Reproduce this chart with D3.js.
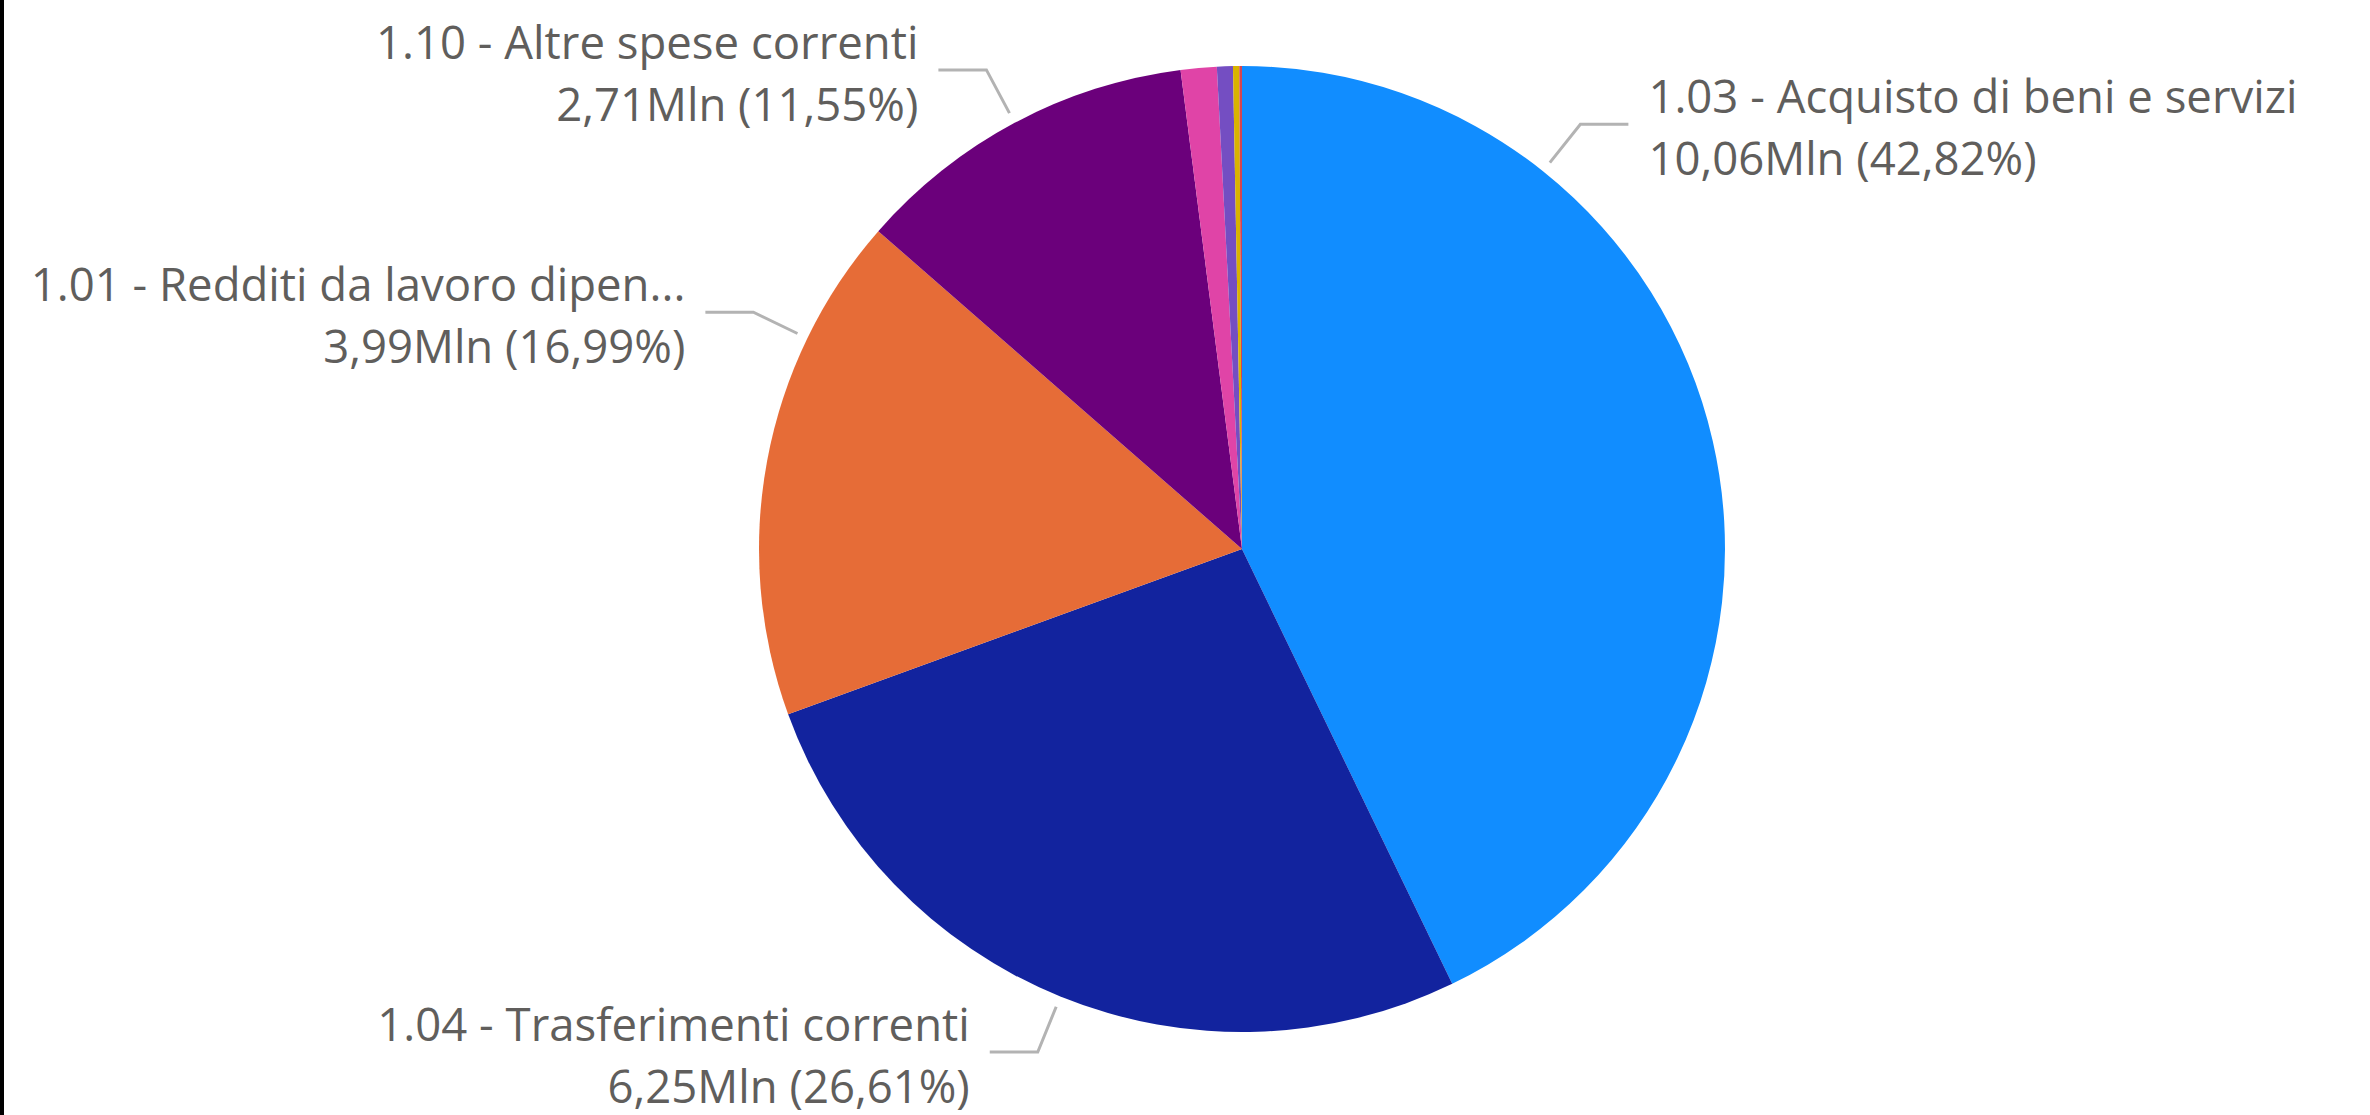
<!DOCTYPE html>
<html lang="it">
<head>
<meta charset="utf-8" />
<title>Spese correnti</title>
<style>
html, body {
	margin: 0;
	padding: 0;
	background: #fff;
}
svg {
	display: block;
}
text {
	font-family: "Open Sans", "Noto Sans", sans-serif;
	fill: #605E5C;
}
</style>
</head>
<body>
<svg></svg>

<script src="https://cdn.jsdelivr.net/npm/d3@7/dist/d3.min.js"></script>
<script>
// dati (milioni di euro), in senso orario dalle ore 12
var categories = [
	"1.03 - Acquisto di beni e servizi",
	"1.04 - Trasferimenti correnti",
	"1.01 - Redditi da lavoro dipendente",
	"1.10 - Altre spese correnti",
	"1.02 - Imposte e tasse a carico dell'ente",
	"1.09 - Rimborsi e poste correttive delle entrate",
	"1.07 - Interessi passivi",
	"1.08 - Altre spese per redditi da capitale"
];
var valuesMln = [10.06, 6.25, 3.99, 2.71, 0.282, 0.125, 0.049, 0.021];
var shareLabels = ["42,82%", "26,61%", "16,99%", "11,55%", "1,20%", "0,53%", "0,21%", "0,09%"];
var colors = ["#118DFF", "#12239E", "#E66C37", "#6B007B", "#E044A7", "#744EC2", "#D9B300", "#D64550"];

// solo le prime quattro fette hanno un'etichetta; posizione del richiamo lungo la fetta
var labelAnchor = [0.25, 0.5, 0.75, 0.5, null, null, null, null];

var W = 2370, H = 1115;
var cx = 1242, cy = 549, R = 483;
var fontSize = 45.5;
var maxLabelW = 665;

var svg = d3.select('svg').attr('width', W).attr('height', H);

// bordo nero a sinistra
svg.append('rect').attr('x', 0).attr('y', 0).attr('width', 4).attr('height', H).attr('fill', '#000');

var data = valuesMln.map(function(v, i) {
	return { name: categories[i], value: v, share: shareLabels[i], color: colors[i], anchor: labelAnchor[i] };
});

var pie = d3.pie().sort(null).value(function(d) { return d.value; });
var arc = d3.arc().innerRadius(0).outerRadius(R);
var arcs = pie(data);

var g = svg.append('g').attr('transform', 'translate(' + cx + ',' + cy + ')');

g.selectAll('path.slice')
	.data(arcs)
	.enter()
	.append('path')
	.attr('class', 'slice')
	.attr('d', arc)
	.attr('fill', function(d) { return d.data.color; });

function fmt(v) {
	return v.toFixed(2).replace('.', ',') + 'Mln';
}

function polar(r, a) {
	return [r * Math.sin(a), -r * Math.cos(a)];
}

var labelled = arcs.filter(function(d) { return d.data.anchor != null; });

labelled.forEach(function(d) {
	var a = d.startAngle + d.data.anchor * (d.endAngle - d.startAngle);
	var side = Math.sin(a) >= 0 ? 1 : -1;
	var p0 = polar(R + 11, a);
	var p1 = polar(R + 60, a);
	var p2 = [p1[0] + side * 48, p1[1]];

	g.append('polyline')
		.attr('points', [p0, p1, p2].map(function(p) { return p.join(','); }).join(' '))
		.attr('fill', 'none')
		.attr('stroke', '#B3B3B3')
		.attr('stroke-width', 3);

	var tx = p2[0] + side * 20;
	var anchor = side > 0 ? 'start' : 'end';

	var t1 = g.append('text')
		.attr('x', tx)
		.attr('y', p1[1] - 11)
		.attr('text-anchor', anchor)
		.style('font-size', fontSize + 'px')
		.text(d.data.name);

	// tronca il nome se troppo lungo
	var name = d.data.name;
	if (t1.node().getComputedTextLength() > maxLabelW) {
		while (name.length > 1) {
			name = name.slice(0, -1);
			t1.text(name + '...');
			if (t1.node().getComputedTextLength() <= maxLabelW) break;
		}
	}

	g.append('text')
		.attr('x', tx)
		.attr('y', p1[1] + 51)
		.attr('text-anchor', anchor)
		.style('font-size', fontSize + 'px')
		.text(fmt(d.data.value) + ' (' + d.data.share + ')');
});
</script>
</body>
</html>
